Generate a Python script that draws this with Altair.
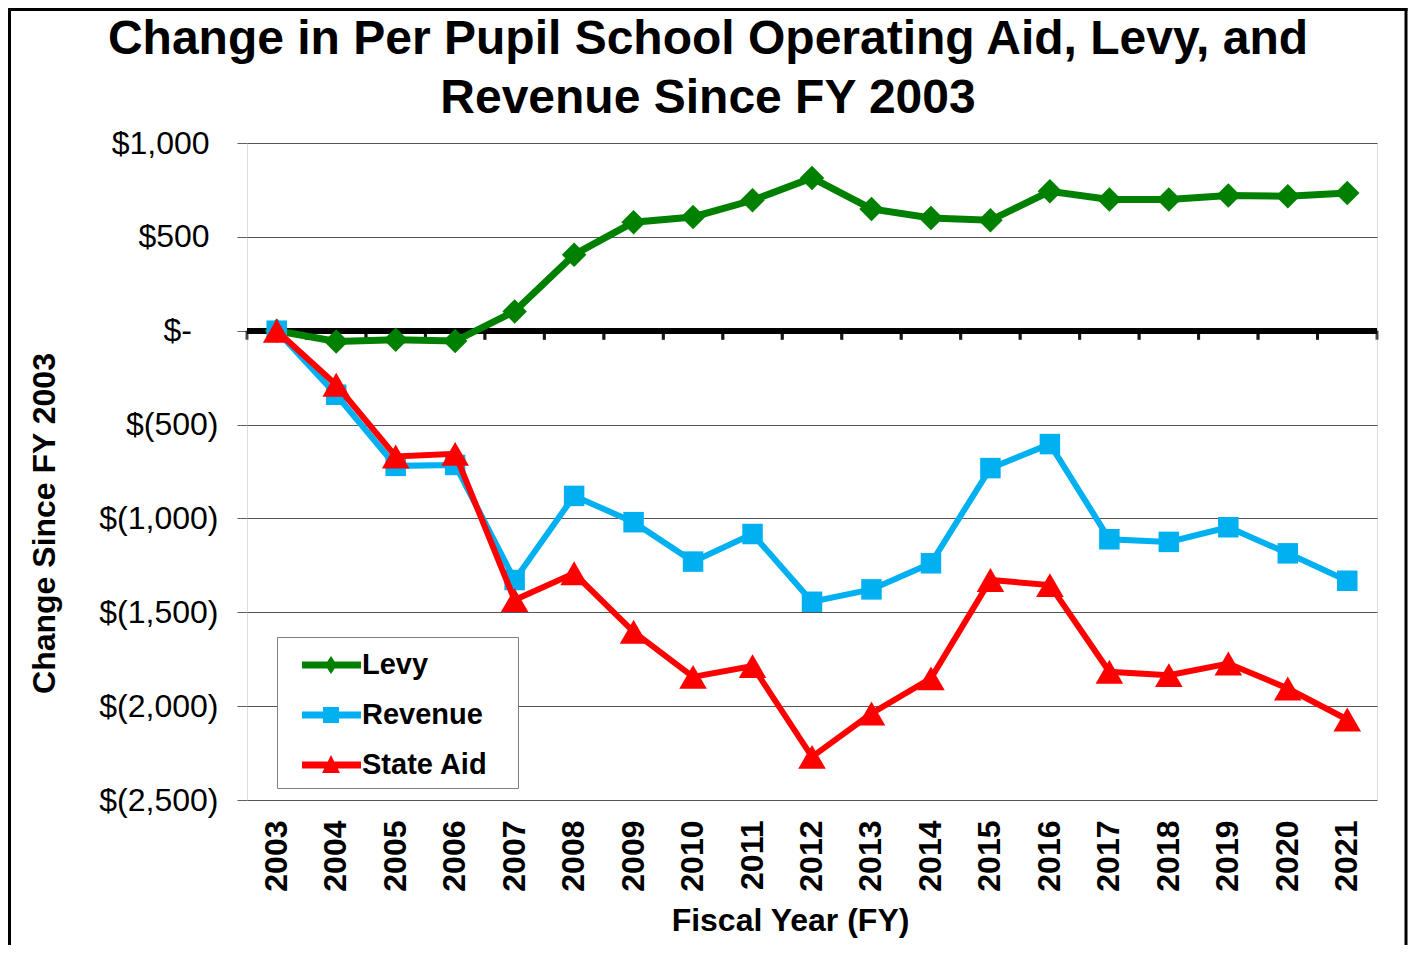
import altair as alt
import pandas as pd

# ---------------- data ----------------
years = list(range(2003, 2022))
levy = [0, -57, -48, -55, 103, 405, 578, 606, 695, 814, 649, 601, 588, 743, 699, 699, 720, 716, 734]
revenue = [0, -341, -720, -715, -1328, -880, -1020, -1230, -1083, -1444, -1378, -1239, -732, -604, -1111, -1125, -1047, -1186, -1332]
state_aid = [0, -288, -670, -656, -1435, -1292, -1604, -1844, -1787, -2270, -2039, -1852, -1328, -1355, -1817, -1835, -1773, -1906, -2071]

series_names = ["Levy", "Revenue", "State Aid"]
series_values = [levy, revenue, state_aid]
colors = ["#008000", "#00B0F0", "#FF0000"]
shapes = ["diamond", "square", "triangle-up"]
marker_sizes = [600, 420, 760]
line_widths = [7, 6, 6]
y_ticks = [-2500, -2000, -1500, -1000, -500, 0, 500, 1000]
title_lines = ["Change in Per Pupil School Operating Aid, Levy, and", "Revenue Since FY 2003"]
x_title = "Fiscal Year (FY)"
y_title = "Change Since FY 2003"

# legend symbols: line + marker (unit coords, scaled by sqrt(size)/2)
bar = "M-0.15,-0.17L2.8,-0.17L2.8,0.17L-0.15,0.17Z "
legend_paths = [
    bar + "M1.3,-0.45L1.6,0L1.3,0.45L1.0,0Z",
    bar + "M0.9,-0.4L1.7,-0.4L1.7,0.4L0.9,0.4Z",
    bar + "M1.3,-0.5L1.75,0.4L0.85,0.4Z",
]

rows = []
for name, vals in zip(series_names, series_values):
    for yr, v in zip(years, vals):
        rows.append({"year": yr, "series": name, "value": v})
df = pd.DataFrame(rows)
years_df = pd.DataFrame({"year": years})
one_df = pd.DataFrame({"k": [0]})

FONT = "Liberation Sans"
NB = "\u00a0"   # no-break space (keeps width)
TH = "\u2009"   # thin space
ZW = "\u200b"   # zero-width char so trailing spaces are not trimmed

legend = alt.Legend(
    title=None,
    orient="none",
    legendX=30,
    legendY=494,
    fillColor="white",
    strokeColor="#808080",
    padding=8,
    rowPadding=15,
    symbolSize=1600,
    symbolOpacity=1,
    symbolStrokeWidth=0,
    labelFont=FONT,
    labelFontSize=29,
    labelFontWeight="bold",
    labelColor="black",
    labelOffset=37,
    labelExpr=f"datum.label + '{NB * 2}{TH}{ZW}'",
)

y_label_expr = (
    f"datum.value > 0 ? '$' + format(datum.value, ',') + '{NB}{ZW}' : "
    f"(datum.value == 0 ? '$-{NB * 3}{ZW}' : '$(' + format(-datum.value, ',') + ')')"
)

x_axis = alt.Axis(
    labelAngle=270,
    labelAlign="right",
    labelBaseline="middle",
    labelFont=FONT,
    labelFontSize=32,
    labelFontWeight="bold",
    labelColor="black",
    labelPadding=20,
    ticks=False,
    tickSize=0,
    domain=False,
    grid=False,
    titleFont=FONT,
    titleFontSize=32,
    titleFontWeight="bold",
    titleColor="black",
    titleX=543,
    titleY=120,
    titleAlign="center",
    titleBaseline="middle",
)
y_axis = alt.Axis(
    values=y_ticks,
    labelExpr=y_label_expr,
    labelFont=FONT,
    labelFontSize=32,
    labelColor="black",
    labelPadding=19,
    tickSize=10,
    tickColor="#606060",
    tickWidth=1,
    domain=False,
    grid=True,
    gridColor="#555555",
    gridWidth=1,
    titleFont=FONT,
    titleFontSize=32,
    titleFontWeight="bold",
    titleColor="black",
    titleX=-203,
    titleY=380,
    titleAngle=270,
    titleAlign="center",
    titleBaseline="middle",
)

x_scale = alt.Scale(paddingInner=0, paddingOuter=0)
y_scale = alt.Scale(domain=[-2500, 1000], nice=False, zero=False)
color_scale = alt.Scale(domain=series_names, range=colors)
shape_scale = alt.Scale(domain=series_names, range=legend_paths)

X = alt.X("year:O", scale=x_scale, axis=x_axis, title=x_title)
Y = alt.Y("value:Q", scale=y_scale, axis=y_axis, title=y_title)

base = alt.Chart(df)

# invisible layer that carries the legend (line + marker symbols)
legend_layer = base.mark_point(filled=True, opacity=0, strokeWidth=0).encode(
    x=X,
    y=Y,
    color=alt.Color("series:N", scale=color_scale, legend=legend),
    shape=alt.Shape("series:N", scale=shape_scale, legend=legend),
)

# zero line with category boundary ticks
zero_line = alt.Chart(years_df).mark_rule(color="black", strokeWidth=5).encode(
    y=alt.datum(0)
)
ticks_start = alt.Chart(years_df).mark_tick(
    orient="vertical", color="black", thickness=3, size=9, yOffset=4.5
).encode(x=alt.X("year:O", scale=x_scale, axis=x_axis, title=x_title, bandPosition=0), y=alt.datum(0))
ticks_end = alt.Chart(years_df).mark_tick(
    orient="vertical", color="black", thickness=3, size=9, yOffset=4.5
).encode(x=alt.X("year:O", scale=x_scale, axis=x_axis, title=x_title, bandPosition=1), y=alt.datum(0))

layers = [legend_layer, zero_line, ticks_start, ticks_end]
for i, name in enumerate(series_names):
    filt = base.transform_filter(alt.datum.series == name)
    layers.append(
        filt.mark_line(strokeWidth=line_widths[i], strokeJoin="miter", color=colors[i]).encode(x=X, y=Y)
    )
    layers.append(
        filt.mark_point(filled=True, shape=shapes[i], size=marker_sizes[i], opacity=1,
                        strokeWidth=0, color=colors[i]).encode(x=X, y=Y)
    )

# title (two centred lines above the plot)
title_1 = alt.Chart(one_df).mark_text(
    font=FONT, fontSize=48, fontWeight="bold", color="black", align="center", baseline="alphabetic"
).encode(x=alt.value(461), y=alt.value(-89.5), text=alt.value(title_lines[0]))
title_2 = alt.Chart(one_df).mark_text(
    font=FONT, fontSize=48, fontWeight="bold", color="black", align="center", baseline="alphabetic"
).encode(x=alt.value(461), y=alt.value(-30.5), text=alt.value(title_lines[1]))

# outer frame of the picture
frame_top = alt.Chart(one_df).mark_rule(color="black", strokeWidth=3).encode(
    x=alt.value(-239), x2=alt.value(1160.5), y=alt.value(-133.5)
)
frame_left = alt.Chart(one_df).mark_rule(color="black", strokeWidth=3).encode(
    x=alt.value(-237.5), y=alt.value(-135), y2=alt.value(810)
)
frame_right = alt.Chart(one_df).mark_rule(color="black", strokeWidth=3).encode(
    x=alt.value(1159), y=alt.value(-135), y2=alt.value(810)
)
layers += [title_1, title_2, frame_top, frame_left, frame_right]

chart = (
    alt.layer(*layers)
    .properties(
        width=1130,
        height=657,
        autosize=alt.AutoSizeParams(type="none"),
        padding={"left": 239, "top": 135, "right": 31, "bottom": 145},
    )
    .configure_view(fill="#C0C0C0", stroke="#808080", strokeWidth=2)
    .configure(font=FONT)
)

chart.save("out.html", embed_options={"renderer": "svg", "actions": False})
